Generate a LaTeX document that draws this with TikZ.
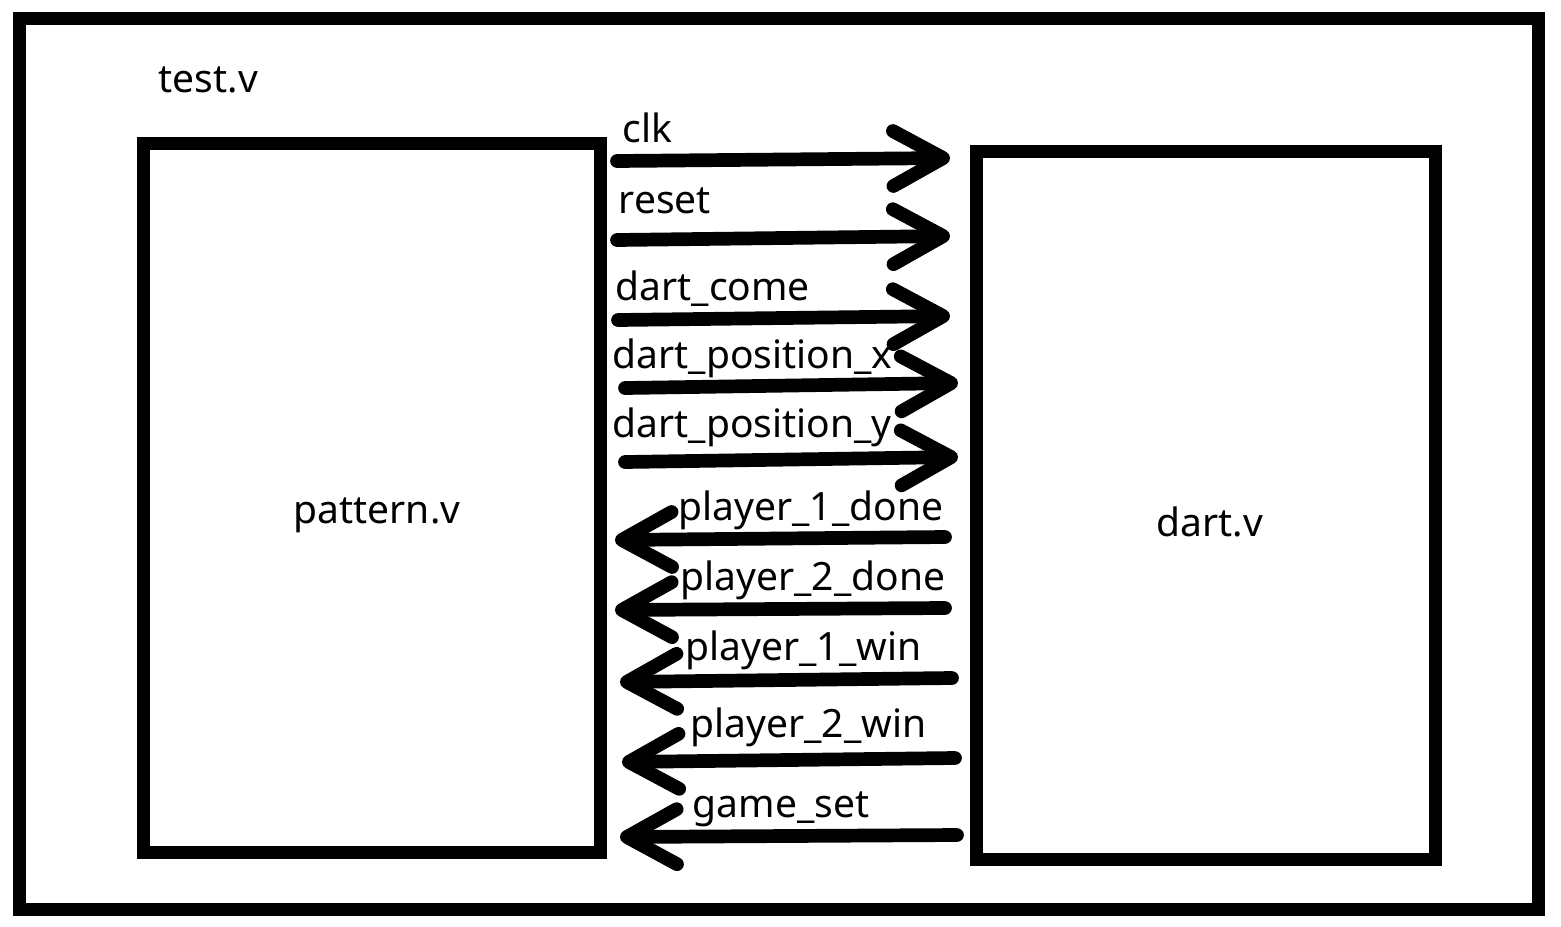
\documentclass[tikz,border=0pt]{standalone}
\usepackage{fontspec}
\setmainfont{Noto Sans}
\usepackage{tikz}
\usetikzlibrary{arrows.meta}

\begin{document}
\begin{tikzpicture}[box/.style={rectangle,draw,line width=3.7pt,inner sep=0pt},
 sig/.style={line width=3.9pt,line cap=round,-{Straight Barb[round,length=5mm,width=5.5mm]}},
 lbl/.style={font=\fontsize{11.1}{13}\selectfont,inner sep=0pt,anchor=base west},
 modtext/.style={font=\fontsize{11.1}{13}\selectfont,inner sep=0pt}]
\useasboundingbox (0,0) rectangle (15.61,-9.26);

 \node at (7.79,-4.6375) [box,minimum width=15.19cm,minimum height=8.905cm] (test) {};
 \node at (3.7175,-4.9775) [box,minimum width=4.565cm,minimum height=7.085cm] (pattern) {};
 \node at (12.0575,-5.0525) [box,minimum width=4.585cm,minimum height=7.085cm] (dart) {};

 \node at (1.58,-0.92) [lbl] (testname) {test.v};
 \node at (3.77,-5.15) [modtext] (patternname) {pattern.v};
 \node at (12.10,-5.22) [modtext] (dartname) {dart.v};

 \node at (6.22,-1.42) [lbl] (clk) {clk};
 \node at (6.18,-2.13) [lbl] (reset) {reset};
 \node at (6.15,-3.00) [lbl] (come) {dart\_come};
 \node at (6.12,-3.68) [lbl] (posx) {dart\_position\_x};
 \node at (6.12,-4.37) [lbl] (posy) {dart\_position\_y};
 \node at (6.78,-5.20) [lbl] (done1) {player\_1\_done};
 \node at (6.80,-5.90) [lbl] (done2) {player\_2\_done};
 \node at (6.85,-6.60) [lbl] (win1) {player\_1\_win};
 \node at (6.90,-7.37) [lbl] (win2) {player\_2\_win};
 \node at (6.92,-8.17) [lbl] (set) {game\_set};

 \coordinate (clkL) at (6.17,-1.61);  \coordinate (clkR) at (9.50,-1.58);
 \coordinate (resetL) at (6.17,-2.40);  \coordinate (resetR) at (9.50,-2.36);
 \coordinate (comeL) at (6.18,-3.20);  \coordinate (comeR) at (9.50,-3.16);
 \coordinate (posxL) at (6.25,-3.88);  \coordinate (posxR) at (9.58,-3.83);
 \coordinate (posyL) at (6.25,-4.62);  \coordinate (posyR) at (9.58,-4.57);
 \coordinate (done1R) at (9.45,-5.37);  \coordinate (done1L) at (6.15,-5.40);
 \coordinate (done2R) at (9.45,-6.08);  \coordinate (done2L) at (6.15,-6.10);
 \coordinate (win1R) at (9.52,-6.78);  \coordinate (win1L) at (6.20,-6.82);
 \coordinate (win2R) at (9.55,-7.58);  \coordinate (win2L) at (6.22,-7.62);
 \coordinate (setR) at (9.57,-8.35);  \coordinate (setL) at (6.20,-8.37);

 \draw[sig] (clkL)--(clkR); \draw[sig] (resetL)--(resetR); \draw[sig] (comeL)--(comeR);
 \draw[sig] (posxL)--(posxR); \draw[sig] (posyL)--(posyR);
 \draw[sig] (done1R)--(done1L); \draw[sig] (done2R)--(done2L); \draw[sig] (win1R)--(win1L);
 \draw[sig] (win2R)--(win2L); \draw[sig] (setR)--(setL);
\end{tikzpicture}
\end{document}
